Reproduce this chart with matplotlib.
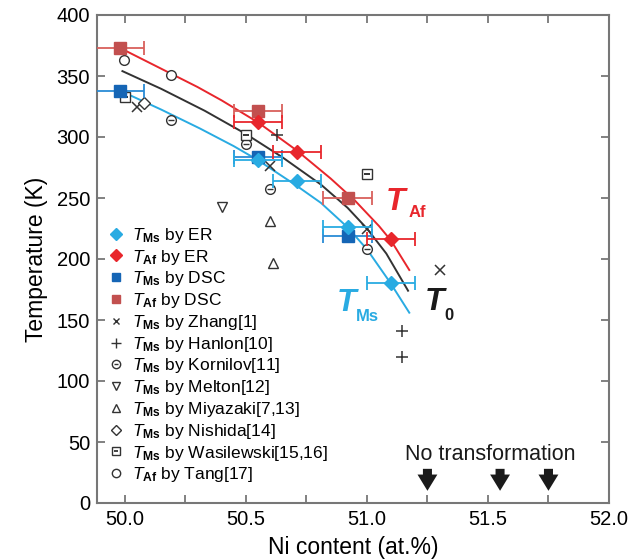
import matplotlib

matplotlib.use("Agg")
import matplotlib.pyplot as plt  # noqa: E402
from matplotlib.lines import Line2D  # noqa: E402

plt.rcParams["font.family"] = ["Liberation Sans", "DejaVu Sans"]
plt.rcParams["mathtext.fontset"] = "custom"
plt.rcParams["mathtext.rm"] = "Liberation Sans"
plt.rcParams["mathtext.it"] = "Liberation Sans:italic"
plt.rcParams["mathtext.bf"] = "Liberation Sans:bold"

# fitted curves
af_fit_x = [49.98, 50.10, 50.19, 50.30, 50.40, 50.55, 50.71, 50.85, 50.95, 51.05, 51.10, 51.175]
af_fit_y = [373, 361, 352, 341, 330, 312, 289, 266, 248, 227, 215, 191]
t0_fit_x = [49.99, 50.15, 50.33, 50.50, 50.65, 50.81, 50.92, 51.00, 51.08, 51.17]
t0_fit_y = [354, 339.5, 321.5, 302.5, 283.5, 261, 242, 225, 204.5, 174]
ms_fit_x = [49.98, 50.15, 50.31, 50.45, 50.55, 50.71, 50.81, 50.92, 51.00, 51.095, 51.175]
ms_fit_y = [338, 322.5, 307, 292.5, 281, 260, 246, 226, 208, 181, 156]

# this work (x error = +/-0.1 at.%)
er_ms_x = [50.55, 50.71, 50.92, 51.10]
er_ms_y = [281, 264, 226, 180]
er_af_x = [50.55, 50.71, 51.10]
er_af_y = [312, 288, 216]
dsc_ms_x = [49.98, 50.55, 50.92]
dsc_ms_y = [338, 284, 219]
dsc_af_x = [49.98, 50.55, 50.92]
dsc_af_y = [373, 321, 250]
x_err = 0.1

# literature
zhang_x = [50.05, 50.60, 51.00, 51.30]
zhang_y = [325, 276, 225, 191]
hanlon_x = [50.63, 51.145, 51.145]
hanlon_y = [302, 141, 120]
kornilov_x = [50.19, 50.50, 50.60, 51.00]
kornilov_y = [314, 294, 257, 208]
melton_x = [50.40]
melton_y = [243]
miyazaki_x = [50.60, 50.61]
miyazaki_y = [231, 197]
nishida_x = [50.08]
nishida_y = [328]
wasilewski_x = [50.00, 50.50, 51.00]
wasilewski_y = [333, 302, 270]
tang_x = [49.997, 50.19]
tang_y = [363, 351]

no_trans_x = [51.25, 51.55, 51.75]

RED = "#e8262c"
CYAN = "#29abe2"
BLUE = "#1565b5"
BROWN = "#c2504f"
INK = "#333333"
SPINE = "#777777"

fig = plt.figure(figsize=(6.28, 5.6), dpi=100)
ax = fig.add_axes([97 / 628, 57 / 560, 512 / 628, 488 / 560])

ax.plot(af_fit_x, af_fit_y, color=RED, lw=1.4, zorder=2)
ax.plot(t0_fit_x, t0_fit_y, color=INK, lw=1.4, zorder=2)
ax.plot(ms_fit_x, ms_fit_y, color=CYAN, lw=1.4, zorder=2)

ebkw = dict(xerr=x_err, ls="none", elinewidth=1.3, capsize=5, capthick=1.3, zorder=4)
ax.errorbar(dsc_ms_x, dsc_ms_y, marker="s", ms=8, color=BLUE, ecolor="#2a8bd6", **ebkw)
ax.errorbar(dsc_af_x, dsc_af_y, marker="s", ms=8, color=BROWN, ecolor="#d9605c", **ebkw)
ax.errorbar(er_ms_x, er_ms_y, marker="D", ms=7, color=CYAN, ecolor=CYAN, **ebkw)
ax.errorbar(er_af_x, er_af_y, marker="D", ms=7, color=RED, ecolor=RED, **ebkw)

hollow = dict(ls="none", mfc="white", mec=INK, color=INK, mew=1.0, zorder=3)
ax.plot(zhang_x, zhang_y, ls="none", marker="x", ms=7, color=INK, mew=1.1, zorder=3)
ax.plot(hanlon_x, hanlon_y, ls="none", marker="+", ms=9, color=INK, mew=1.1, zorder=3)
ax.plot(kornilov_x, kornilov_y, marker="o", ms=7, **hollow)
ax.plot(kornilov_x, kornilov_y, ls="none", marker="_", ms=4, color=INK, mew=1.0, zorder=3)
ax.plot(melton_x, melton_y, marker="v", ms=7, **hollow)
ax.plot(miyazaki_x, miyazaki_y, marker="^", ms=7, **hollow)
ax.plot(nishida_x, nishida_y, marker="D", ms=6, **hollow)
ax.plot(wasilewski_x, wasilewski_y, marker="s", ms=7, **hollow)
ax.plot(wasilewski_x, wasilewski_y, ls="none", marker="_", ms=4, color=INK, mew=1.4, zorder=3)
ax.plot(tang_x, tang_y, marker="o", ms=7, **hollow)

# curve labels
ax.text(51.12, 247, "T", color=RED, fontsize=23, fontweight="bold", style="italic",
        ha="center", va="center")
ax.text(51.21, 238, "Af", color=RED, fontsize=12, fontweight="bold", ha="center", va="center")
ax.text(50.917, 164, "T", color=CYAN, fontsize=23, fontweight="bold", style="italic",
        ha="center", va="center")
ax.text(51.0, 153, "Ms", color=CYAN, fontsize=12, fontweight="bold", ha="center", va="center")
ax.text(51.28, 165, "T", color="#1a1a1a", fontsize=23, fontweight="bold", style="italic",
        ha="center", va="center")
ax.text(51.337, 154, "0", color="#1a1a1a", fontsize=12, fontweight="bold",
        ha="center", va="center")

# no transformation
ax.text(51.51, 40, "No transformation", fontsize=15.5, color="#1a1a1a", ha="center",
        va="center")
for xv in no_trans_x:
    ax.annotate("", xy=(xv, 10), xytext=(xv, 28),
                arrowprops=dict(arrowstyle="simple,head_width=1.1,head_length=0.9,tail_width=0.5",
                                color="#1a1a1a", lw=0, shrinkA=0, shrinkB=0,
                                mutation_scale=13))

ax.set_xlim(49.885, 52.0)
ax.set_ylim(0, 400)
xt = [50.0, 50.25, 50.5, 50.75, 51.0, 51.25, 51.5, 51.75, 52.0]
ax.set_xticks(xt)
ax.set_xticklabels([f"{v:.1f}" if i % 2 == 0 else "" for i, v in enumerate(xt)])
ax.set_yticks(range(0, 401, 50))
ax.tick_params(direction="in", length=6, width=1.3, color=SPINE, labelsize=14.5,
               top=True, right=True, pad=5)
for s in ax.spines.values():
    s.set_color(SPINE)
    s.set_linewidth(1.5)
ax.set_xlabel("Ni content (at.%)", fontsize=16.5, labelpad=5)
ax.set_ylabel("Temperature (K)", fontsize=16.5, labelpad=6)

ms_lab = r"$T_{\mathbf{Ms}}$"
af_lab = r"$T_{\mathbf{Af}}$"
handles = [
    Line2D([], [], ls="none", marker="D", ms=6, color=CYAN),
    Line2D([], [], ls="none", marker="D", ms=6, color=RED),
    Line2D([], [], ls="none", marker="s", ms=6, color=BLUE),
    Line2D([], [], ls="none", marker="s", ms=6, color=BROWN),
    Line2D([], [], ls="none", marker="x", ms=5, color=INK, mew=1.0),
    Line2D([], [], ls="none", marker="+", ms=7, color=INK, mew=1.0),
    (Line2D([], [], ls="none", marker="o", ms=6, mfc="white", mec=INK),
     Line2D([], [], ls="none", marker="_", ms=3, color=INK)),
    Line2D([], [], ls="none", marker="v", ms=6, mfc="white", mec=INK),
    Line2D([], [], ls="none", marker="^", ms=6, mfc="white", mec=INK),
    Line2D([], [], ls="none", marker="D", ms=5, mfc="white", mec=INK),
    (Line2D([], [], ls="none", marker="s", ms=6, mfc="white", mec=INK),
     Line2D([], [], ls="none", marker="_", ms=3, color=INK, mew=1.3)),
    Line2D([], [], ls="none", marker="o", ms=6, mfc="white", mec=INK),
]
labels = [
    ms_lab + " by ER", af_lab + " by ER", ms_lab + " by DSC", af_lab + " by DSC",
    ms_lab + " by Zhang[1]", ms_lab + " by Hanlon[10]", ms_lab + " by Kornilov[11]",
    ms_lab + " by Melton[12]", ms_lab + " by Miyazaki[7,13]", ms_lab + " by Nishida[14]",
    ms_lab + " by Wasilewski[15,16]", af_lab + " by Tang[17]",
]
ax.legend(handles, labels, loc="upper left", bbox_to_anchor=(0.0, 0.593), frameon=False,
          fontsize=12.5, handlelength=0.8, handletextpad=0.5, labelspacing=0.16,
          borderaxespad=0.3)

fig.savefig("out.png", dpi=100)
